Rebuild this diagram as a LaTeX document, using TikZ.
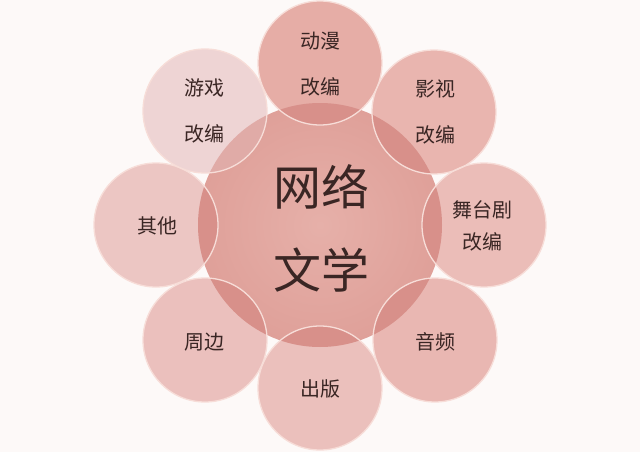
\documentclass[tikz,border=0pt]{standalone}
\usepackage{fontspec}
\newfontfamily\cjk{Noto Sans CJK SC}
\definecolor{bgc}{HTML}{FDF9F8}
\definecolor{cin}{HTML}{E6B0A9}
\definecolor{cout}{HTML}{DFA099}
\definecolor{lens}{HTML}{D8908A}
\definecolor{rimc}{HTML}{F7DDD8}
\definecolor{txt}{HTML}{3A2624}
\definecolor{cA}{HTML}{E6ADA6}
\definecolor{cB}{HTML}{E9B5AF}
\definecolor{cC}{HTML}{EBBDB8}
\definecolor{cD}{HTML}{E9B7B2}
\definecolor{cE}{HTML}{EBC0BC}
\definecolor{cF}{HTML}{EBC0BD}
\definecolor{cG}{HTML}{ECC6C3}
\definecolor{cH}{HTML}{EED4D4}
\tikzset{
  petal/.style={circle, minimum size=124pt, inner sep=0pt, outer sep=0pt},
  rim/.style={draw=rimc, line width=1.3pt},
  lbl/.style={font=\cjk\fontsize{20}{24}\selectfont, text=txt, align=center, inner sep=0pt},
  big/.style={font=\cjk\fontsize{48}{52}\selectfont, text=txt, inner sep=0pt}
}
\begin{document}
\begin{tikzpicture}[x=1pt,y=-1pt]
\useasboundingbox (0,0) rectangle (640,452);
\fill[bgc] (0,0) rectangle (640,452);
% centre circle
\node[circle, minimum size=244pt, inner sep=0pt, inner color=cin, outer color=cout] (core) at (320,225) {};
% petals
\node[petal, fill=cA] (pA) at (320,63) {};
\node[petal, fill=cB] (pB) at (434,112) {};
\node[petal, fill=cC] (pC) at (484,225) {};
\node[petal, fill=cD] (pD) at (435,340) {};
\node[petal, fill=cE] (pE) at (320,388) {};
\node[petal, fill=cF] (pF) at (205,340) {};
\node[petal, fill=cG] (pG) at (156,225) {};
\node[petal, fill=cH] (pH) at (205,111) {};
% overlap lenses
\begin{scope}
  \clip (320,225) circle (122pt);
  \foreach \p/\o in {pA/1,pB/1,pC/1,pD/1,pE/1,pF/1,pG/1,pH/0.6}
    \fill[lens, fill opacity=\o] (\p.center) circle (62pt);
\end{scope}
% rims
\foreach \p in {pA,pB,pC,pD,pE,pF,pG,pH}
  \draw[rim] (\p.center) circle (62pt);
% labels
\node[big] (t1) at (321,187) {网络};
\node[big] (t2) at (321,270) {文学};
\node[lbl] (lA) at (320,64) {动漫\\[22pt]改编};
\node[lbl] (lB) at (435,112) {影视\\[22pt]改编};
\node[lbl] (lC) at (482,226) {舞台剧\\[8pt]改编};
\node[lbl] (lD) at (435,342) {音频};
\node[lbl] (lE) at (320,389) {出版};
\node[lbl] (lF) at (204,342) {周边};
\node[lbl] (lG) at (157,226) {其他};
\node[lbl] (lH) at (204,111) {游戏\\[22pt]改编};
\end{tikzpicture}
\end{document}
